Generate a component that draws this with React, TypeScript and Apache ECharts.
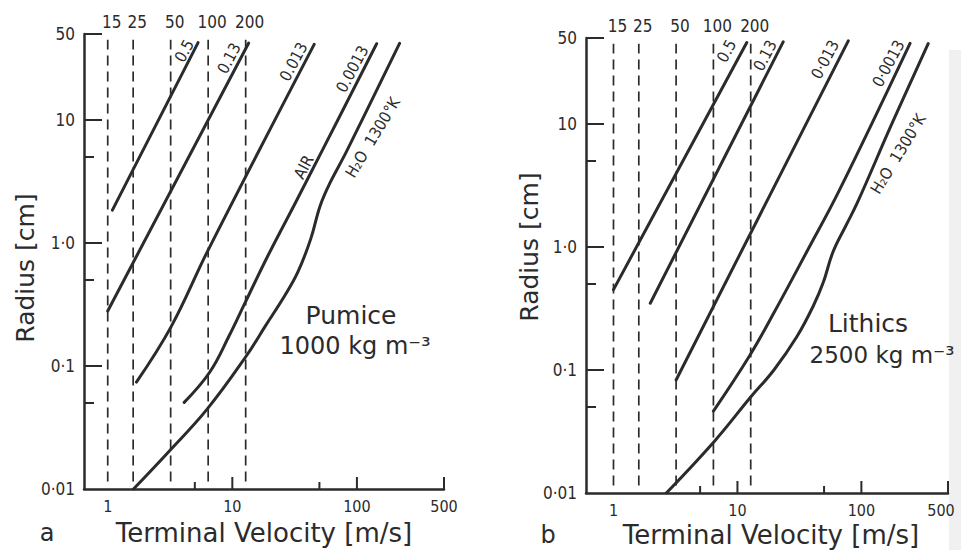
import React, { useEffect, useRef } from 'react';
import * as echarts from 'echarts';

const FONT = 'DejaVu Sans';
const FONT_C = 'DejaVu Sans Condensed';
const INK = '#2b2b2b';

// vertical dashed reference lines (terminal velocity, m/s) and their altitude labels
const dashVelocities = [1, 1.6, 3.2, 6.4, 12.8];
const altitudeLabels = ['15', '25', '50', '100', '200'];
const dashBottom = 0.0115;
const dashTop = 45;

// axes
const yMin = 0.01;
const yMax = 50;
const xMax = 500;
const xTickValues = [5, 10, 50, 100, 500];
const xTickMajor = [false, true, false, true, true];
const xLabelValues = [1, 10, 100, 500];
const xLabelTexts = ['1', '10', '100', '500'];
const yTickValues = [0.05, 0.1, 0.5, 1, 5, 10, 50];
const yTickMajor = [false, true, false, true, false, true, true];
const yLabelValues = [0.01, 0.1, 1, 10, 50];
const yLabelTexts = ['0·01', '0·1', '1·0', '10', '50'];

// Panel a — Pumice 1000 kg m-3: [velocity m/s, radius cm]
const pumice05 = [[1.09, 1.85], [5.31, 42.5]];
const pumice013 = [[1.0, 0.28], [13.5, 42.1]];
const pumice0013 = [[1.7, 0.074], [3.23, 0.209], [6.41, 0.88], [45.4, 41.2]];
const pumiceAir = [[4.11, 0.0506], [6.58, 0.0889], [9.43, 0.176], [12.7, 0.329], [19.3, 0.787], [31.2, 2.01], [53.5, 5.82], [144, 41.7]];
const pumiceH2O = [[1.61, 0.01], [3.1, 0.0202], [6.28, 0.0446], [12.9, 0.12], [18.5, 0.213], [26.4, 0.374], [33.6, 0.581], [42.6, 1.08], [50.8, 2.02], [60.8, 3.08], [82.2, 5.5], [220, 42]];
const pumiceLabelTexts = ['0.5', '0.13', '0.013', '0.0013', 'AIR', 'H₂O  1300°K'];
const pumiceLabelPos = [[4.11, 36.5], [9.41, 31.7], [31.0, 29.8], [91.8, 26.0], [37.4, 4.15], [134, 7.21]];
const pumiceLabelAngles = [62, 62, 62, 62, 62, 59];

// Panel b — Lithics 2500 kg m-3
const lithic05 = [[1.0, 0.45], [11.9, 46]];
const lithic013 = [[1.98, 0.349], [23.4, 46.5]];
const lithic0013 = [[3.2, 0.083], [78.4, 47.4]];
const lithicAir = [[6.4, 0.0463], [12.5, 0.13], [20, 0.3], [37, 0.95], [66.5, 2.9], [247, 45.3]];
const lithicH2O = [[2.67, 0.01], [6.53, 0.0264], [12.8, 0.0603], [19.7, 0.1], [30.3, 0.188], [41.0, 0.333], [49.3, 0.516], [59.0, 0.91], [75.5, 1.51], [92.8, 2.29], [176, 10.0], [346, 45]];
const lithicLabelTexts = ['0.5', '0.13', '0·013', '0·0013', 'H₂O  1300°K'];
const lithicLabelPos = [[8.18, 39.2], [16.7, 36], [51, 33.4], [165, 31], [198, 5.71]];
const lithicLabelAngles = [62, 62, 62, 62, 58.5];

const panels = [
  {
    xMin: 0.645, left: 84, top: 34, width: 360, height: 455,
    curves: [pumice05, pumice013, pumice0013, pumiceAir, pumiceH2O],
    labelTexts: pumiceLabelTexts, labelPos: pumiceLabelPos, labelAngles: pumiceLabelAngles,
  },
  {
    xMin: 0.6, left: 586, top: 38, width: 362, height: 455,
    curves: [lithic05, lithic013, lithic0013, lithicAir, lithicH2O],
    labelTexts: lithicLabelTexts, labelPos: lithicLabelPos, labelAngles: lithicLabelAngles,
  },
];

function textEl(x: number, y: number, text: string, size: number, align: string, vAlign: string, rotation = 0, family = FONT) {
  return {
    type: 'text', x, y, rotation,
    style: {
      text, fill: INK, fontSize: size, fontFamily: family,
      align, verticalAlign: vAlign, textAlign: align, textVerticalAlign: vAlign,
    },
  };
}

function buildSeries(pi: number, p: any) {
  const axes = { xAxisIndex: pi, yAxisIndex: pi };
  const out: any[] = [];
  dashVelocities.forEach((v) => {
    out.push({
      type: 'line', ...axes, silent: true, symbol: 'none', z: 2,
      data: [[v, dashBottom], [v, dashTop]],
      lineStyle: { color: INK, width: 1.7, type: [10, 6] },
    });
  });
  p.curves.forEach((c: number[][]) => {
    out.push({
      type: 'line', ...axes, silent: true, symbol: 'none', z: 3,
      data: c, smooth: c.length > 2 ? 0.4 : false,
      lineStyle: { color: INK, width: 3, cap: 'round' },
    });
  });
  // altitude labels above dashed lines
  out.push({
    type: 'custom', ...axes, silent: true, clip: false, z: 5,
    data: dashVelocities.map((v) => [v, yMax]),
    renderItem: (params: any, api: any) => {
      const pt = api.coord([api.value(0), api.value(1)]);
      return textEl(pt[0] + 4, pt[1] - 12, altitudeLabels[params.dataIndex], 17, 'center', 'middle', 0, FONT_C);
    },
  });
  // curve labels
  out.push({
    type: 'custom', ...axes, silent: true, clip: false, z: 5,
    data: p.labelPos,
    renderItem: (params: any, api: any) => {
      const pt = api.coord([api.value(0), api.value(1)]);
      const i = params.dataIndex;
      return textEl(pt[0], pt[1], p.labelTexts[i], 16, 'center', 'middle', (p.labelAngles[i] * Math.PI) / 180, FONT_C);
    },
  });
  // x ticks
  out.push({
    type: 'custom', ...axes, silent: true, clip: false, z: 4,
    data: xTickValues.map((v) => [v, yMin]),
    renderItem: (params: any, api: any) => {
      const pt = api.coord([api.value(0), api.value(1)]);
      const len = xTickMajor[params.dataIndex] ? 12 : 7;
      return { type: 'line', shape: { x1: pt[0], y1: pt[1], x2: pt[0], y2: pt[1] - len }, style: { stroke: INK, lineWidth: 2 } };
    },
  });
  // x labels
  out.push({
    type: 'custom', ...axes, silent: true, clip: false, z: 4,
    data: xLabelValues.map((v) => [v, yMin]),
    renderItem: (params: any, api: any) => {
      const pt = api.coord([api.value(0), api.value(1)]);
      return textEl(Math.min(pt[0], 941), pt[1] + 17, xLabelTexts[params.dataIndex], 16, 'center', 'middle', 0, FONT_C);
    },
  });
  // y ticks
  out.push({
    type: 'custom', ...axes, silent: true, clip: false, z: 4,
    data: yTickValues.map((v) => [p.xMin, v]),
    renderItem: (params: any, api: any) => {
      const pt = api.coord([api.value(0), api.value(1)]);
      const len = yTickMajor[params.dataIndex] ? 18 : 10;
      return { type: 'line', shape: { x1: pt[0], y1: pt[1], x2: pt[0] + len, y2: pt[1] }, style: { stroke: INK, lineWidth: 2 } };
    },
  });
  // y labels
  out.push({
    type: 'custom', ...axes, silent: true, clip: false, z: 4,
    data: yLabelValues.map((v) => [p.xMin, v]),
    renderItem: (params: any, api: any) => {
      const pt = api.coord([api.value(0), api.value(1)]);
      return textEl(pt[0] - 9, pt[1], yLabelTexts[params.dataIndex], 17, 'right', 'middle', 0, FONT_C);
    },
  });
  return out;
}

export default function App() {
  const ref = useRef<HTMLDivElement>(null);
  useEffect(() => {
    if (!ref.current) return;
    const chart = echarts.init(ref.current, undefined, { renderer: 'svg' });
    const axisLine = { show: true, onZero: false, lineStyle: { color: INK, width: 2.5 } };
    const option: any = {
      animation: false,
      backgroundColor: '#ffffff',
      grid: panels.map((p) => ({ left: p.left, top: p.top, width: p.width, height: p.height })),
      xAxis: panels.map((p, i) => ({
        type: 'log', logBase: 10, gridIndex: i, min: p.xMin, max: xMax,
        axisLine, axisTick: { show: false }, axisLabel: { show: false }, splitLine: { show: false },
      })),
      yAxis: panels.map((p, i) => ({
        type: 'log', logBase: 10, gridIndex: i, min: yMin, max: yMax,
        axisLine, axisTick: { show: false }, axisLabel: { show: false }, splitLine: { show: false },
      })),
      series: [...buildSeries(0, panels[0]), ...buildSeries(1, panels[1])],
      graphic: [
        { type: 'rect', z: -10, shape: { x: 949, y: 50, width: 12, height: 500 }, style: { fill: '#f0f0f0' } },
        textEl(25, 268, 'Radius [cm]', 25, 'center', 'middle', Math.PI / 2),
        textEl(529, 247, 'Radius [cm]', 25, 'center', 'middle', Math.PI / 2),
        textEl(264, 533, 'Terminal Velocity [m/s]', 26, 'center', 'middle'),
        textEl(771, 535, 'Terminal Velocity [m/s]', 26, 'center', 'middle'),
        textEl(47, 533, 'a', 24, 'center', 'middle'),
        textEl(548, 535, 'b', 24, 'center', 'middle'),
        textEl(351, 315, 'Pumice', 25, 'center', 'middle'),
        textEl(355, 346, '1000 kg m⁻³', 24, 'center', 'middle'),
        textEl(868, 323, 'Lithics', 25, 'center', 'middle'),
        textEl(882, 355, '2500 kg m⁻³', 23, 'center', 'middle'),
      ],
    };
    chart.setOption(option);
    return () => chart.dispose();
  }, []);
  return <div ref={ref} style={{ position: 'fixed', left: 0, top: 0, width: 961, height: 550 }} />;
}
